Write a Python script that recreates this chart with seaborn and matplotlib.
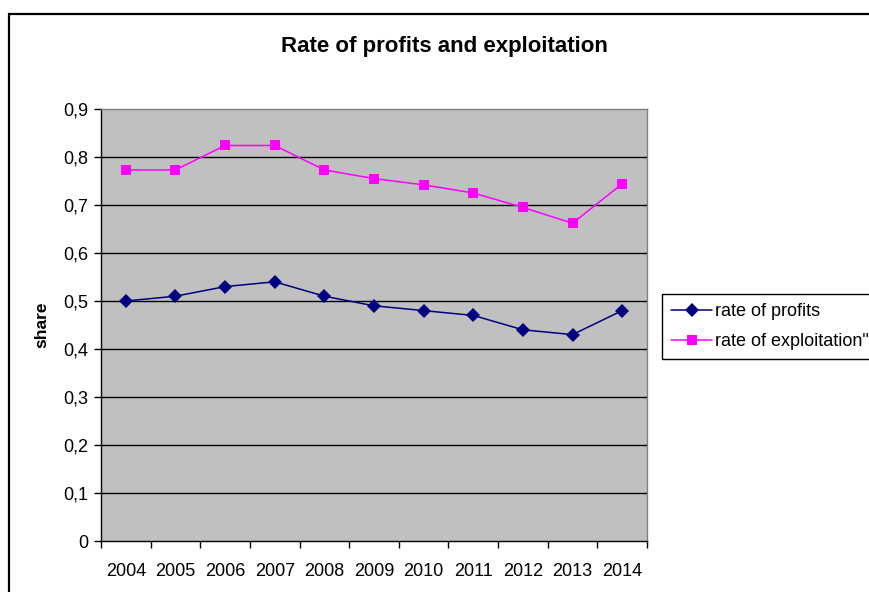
import numpy as np
import pandas as pd
import matplotlib
matplotlib.use('Agg')
import matplotlib.pyplot as plt
import matplotlib.patches as mpatches
import seaborn as sns

# ── data ────────────────────────────────────────────────────────────────────
years = ['2004', '2005', '2006', '2007', '2008', '2009',
         '2010', '2011', '2012', '2013', '2014']
rate_of_profits = [0.50, 0.51, 0.53, 0.54, 0.51, 0.49, 0.48, 0.47, 0.44, 0.43, 0.48]
rate_of_exploitation = [0.773, 0.773, 0.824, 0.824, 0.773, 0.755, 0.742, 0.725, 0.695, 0.662, 0.744]
series_names = ['rate of profits', 'rate of exploitation"']
y_ticks = [0, 0.1, 0.2, 0.3, 0.4, 0.5, 0.6, 0.7, 0.8, 0.9]

df = pd.DataFrame({
    'pos': list(range(len(years))) * 2,
    'value': rate_of_profits + rate_of_exploitation,
    'series': [series_names[0]] * len(years) + [series_names[1]] * len(years),
})

# ── style ───────────────────────────────────────────────────────────────────
sns.set_theme(style='white')
plt.rcParams['font.family'] = ['Liberation Sans', 'DejaVu Sans']
plt.rcParams['text.color'] = 'black'
plt.rcParams['xtick.color'] = 'black'
plt.rcParams['ytick.color'] = 'black'
plt.rcParams['axes.labelcolor'] = 'black'

fig = plt.figure(figsize=(8.69, 5.92), dpi=100, facecolor='white')
ax = fig.add_axes([0.1162, 0.0861, 0.6283, 0.7298])
ax.set_facecolor('#c0c0c0')

# chart-area border (cut off at right/bottom like the screenshot)
fig.patches.append(mpatches.Rectangle((9 / 869, -0.1), 1.2, 1 - 14 / 592 + 0.1,
                                      transform=fig.transFigure, fill=False,
                                      edgecolor='black', linewidth=1.6, zorder=0))

# gridlines
for v in y_ticks[1:-1]:
    ax.axhline(v, color='black', lw=1.0, zorder=1)

sns.lineplot(data=df, x='pos', y='value', hue='series', style='series',
             palette={series_names[0]: '#000080', series_names[1]: '#ff00ff'},
             markers={series_names[0]: 'D', series_names[1]: 's'},
             dashes=False, markersize=7, linewidth=1.1,
             markeredgewidth=0, ax=ax, zorder=3)

ax.set_xlim(-0.5, len(years) - 0.5)
ax.set_ylim(0, 0.9)

# category axis: tick marks between categories, labels in the middle
ax.set_xticks(np.arange(-0.5, len(years), 1.0))
ax.set_xticklabels([])
ax.set_xticks(np.arange(len(years)), minor=True)
ax.set_xticklabels(years, minor=True, fontsize=13)
ax.tick_params(axis='x', which='major', direction='out', length=5, width=1, color='black', bottom=True)
ax.tick_params(axis='x', which='minor', length=0, pad=16, bottom=True)

ax.set_yticks(y_ticks)
ax.set_yticklabels(['0' if v == 0 else f'{v:.1f}'.replace('.', ',') for v in y_ticks], fontsize=13)
ax.tick_params(axis='y', direction='out', length=5, width=1, color='black', left=True, pad=4)

for side in ['left', 'bottom']:
    ax.spines[side].set_color('black')
    ax.spines[side].set_linewidth(1.0)
for side in ['top', 'right']:
    ax.spines[side].set_color('#808080')
    ax.spines[side].set_linewidth(1.0)

ax.set_xlabel('')
ax.set_ylabel('share', fontsize=12.5, fontweight='bold', labelpad=10)

fig.suptitle('Rate of profits and exploitation', x=0.511, y=0.921, va='center',
             fontsize=16, fontweight='bold')

handles, labels = ax.get_legend_handles_labels()
ax.legend_.remove()
leg = fig.legend(handles, labels, loc='upper left', bbox_to_anchor=(0.762, 0.503),
                 borderaxespad=0, fancybox=False, edgecolor='black', framealpha=1,
                 fontsize=13, handlelength=2.25, handletextpad=0.2,
                 borderpad=0.5, labelspacing=0.7)
leg.get_frame().set_linewidth(1.0)

plt.savefig('out.png', dpi=100, facecolor='white')
